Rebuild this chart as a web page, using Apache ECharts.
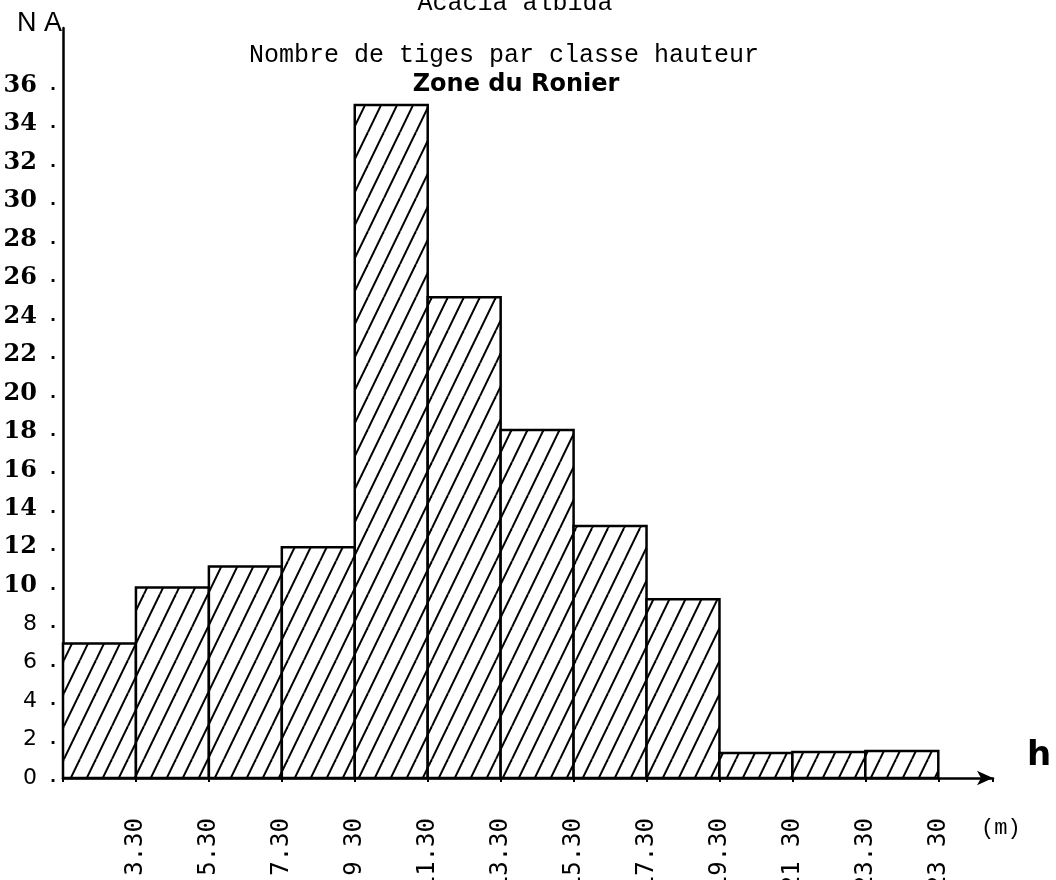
<!DOCTYPE html>
<html>
<head>
<meta charset="utf-8">
<script src="https://cdn.jsdelivr.net/npm/echarts@6/dist/echarts.min.js"></script>
<style>
html,body{margin:0;padding:0;background:#fff;}
#chart{width:1056px;height:880px;}
</style>
</head>
<body>
<div id="chart"></div>
<script>
// ---- data ----
const tickLabels = ['1.30','3.30','5.30','7.30','9 30','11.30','13.30','15.30','17.30','19.30','21 30','23.30','23 30'];
const counts = [7, 9.9, 11, 12, 35, 25, 18.1, 13.1, 9.3, 1.3, 1.35, 1.4];
const yTickMax = 36;
const titleMain = 'Acacia albida';
const titleSub = 'Nombre de tiges par classe hauteur';
const titleZone = 'Zone du Ronier';
const yName = 'N A';
const xName = 'h';
const xUnit = '(m)';

// hatch pattern ("/" lines)
function makeHatch() {
  const w = 16, h = 33;
  const c = document.createElement('canvas');
  c.width = w; c.height = h;
  const ctx = c.getContext('2d');
  ctx.fillStyle = '#fff';
  ctx.fillRect(0, 0, w, h);
  ctx.strokeStyle = '#000';
  ctx.lineWidth = 2;
  for (let k = -1; k <= 1; k++) {
    ctx.beginPath();
    ctx.moveTo(k * w, h);
    ctx.lineTo(k * w + w, 0);
    ctx.stroke();
  }
  return c;
}
const hatch = makeHatch();

const barData = counts.map((v, i) => [i, i + 1, v]);

const chart = echarts.init(document.getElementById('chart'), null, {renderer: 'canvas'});
chart.setOption({
  backgroundColor: '#fff',
  animation: false,
  grid: {left: 63, right: 63, top: 28, bottom: 102, containLabel: false, outerBoundsMode: 'none'},
  xAxis: {
    type: 'value',
    min: 0,
    max: 12.75,
    interval: 1,
    splitLine: {show: false},
    axisLine: {show: true, symbol: ['none', 'arrow'], symbolSize: [11, 16], lineStyle: {color: '#000', width: 2.5}},
    axisTick: {show: true, length: 4, lineStyle: {color: '#000', width: 2}},
    axisLabel: {
      rotate: 90,
      margin: 40,
      color: '#000',
      fontFamily: 'DejaVu Sans Mono',
      fontSize: 24,
      formatter: function (v) {
        const i = Math.round(v);
        if (Math.abs(v - i) > 1e-6 || i < 1 || i >= tickLabels.length) return '';
        return tickLabels[i];
      }
    }
  },
  yAxis: {
    type: 'value',
    min: 0,
    max: 39,
    interval: 2,
    splitLine: {show: false},
    axisLine: {show: true, lineStyle: {color: '#000', width: 2.5}},
    axisTick: {show: false},
    axisLabel: {
      margin: 7,
      color: '#000',
      formatter: function (v) {
        if (v > yTickMax || v % 2 !== 0) return '';
        if (v >= 10) return '{n|' + v + '}{p|.}';
        return '{s|' + v + '}{p|.}';
      },
      rich: {
        n: {fontFamily: 'DejaVu Serif', fontWeight: 'bold', fontSize: 24, color: '#000'},
        s: {fontFamily: 'DejaVu Sans', fontSize: 22, color: '#000'},
        p: {fontFamily: 'DejaVu Sans', fontWeight: 'bold', fontSize: 16, color: '#000', width: 19, align: 'right'}
      }
    }
  },
  graphic: [
    {type: 'text', x: 515, y: 3, style: {text: titleMain, font: '25px "Liberation Mono"', fill: '#000', align: 'center', verticalAlign: 'middle'}},
    {type: 'text', x: 504, y: 55, style: {text: titleSub, font: '25px "Liberation Mono"', fill: '#000', align: 'center', verticalAlign: 'middle'}},
    {type: 'text', x: 516, y: 85, style: {text: titleZone, font: 'bold 24px "DejaVu Sans"', fill: '#000', align: 'center', verticalAlign: 'middle'}},
    {type: 'text', x: 62, y: 24, style: {text: yName, font: '27px "Liberation Sans"', fill: '#000', align: 'right', verticalAlign: 'middle'}},
    {type: 'text', x: 1027, y: 756, style: {text: xName, font: 'bold 34px "DejaVu Sans"', fill: '#000', align: 'left', verticalAlign: 'middle'}},
    {type: 'text', x: 981, y: 828, style: {text: xUnit, font: '22px "Liberation Mono"', fill: '#000', align: 'left', verticalAlign: 'middle'}}
  ],
  series: [{
    type: 'custom',
    data: barData,
    encode: {x: [0, 1], y: 2},
    renderItem: function (params, api) {
      const x0 = api.value(0), x1 = api.value(1), v = api.value(2);
      const p0 = api.coord([x0, 0]);
      const p1 = api.coord([x1, v]);
      return {
        type: 'rect',
        shape: {x: p0[0], y: p1[1], width: p1[0] - p0[0], height: p0[1] - p1[1]},
        style: {fill: {image: hatch, repeat: 'repeat'}, stroke: '#000', lineWidth: 2.5}
      };
    }
  }]
});
</script>
</body>
</html>
